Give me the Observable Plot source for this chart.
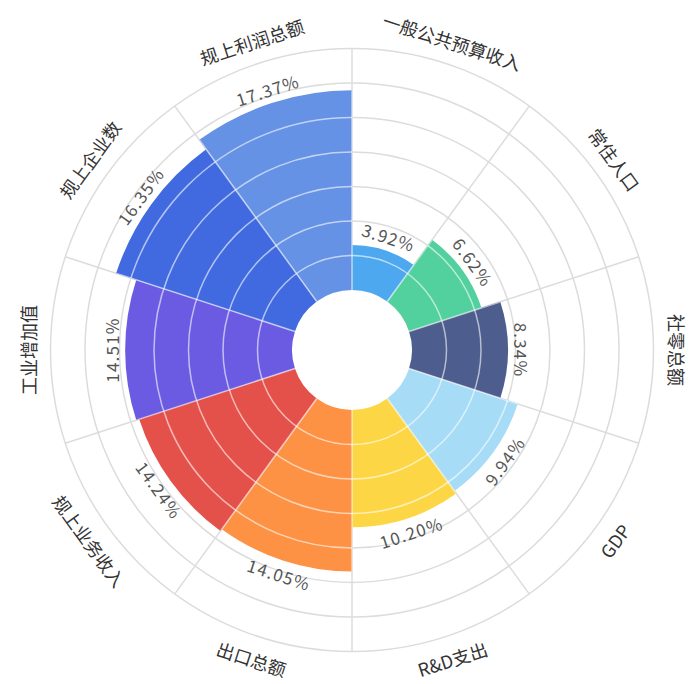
<!DOCTYPE html>
<html>
<head>
<meta charset="utf-8">
<script src="https://cdn.jsdelivr.net/npm/d3@7"></script>
<script src="https://cdn.jsdelivr.net/npm/@observablehq/plot@0.6"></script>
<style>
  html, body { margin: 0; padding: 0; background: #fff; }
  #chart svg { display: block; }
</style>
</head>
<body>
<div id="chart"></div>
<script>
// ---- data ----
const categories = ["一般公共预算收入", "常住人口", "社零总额", "GDP", "R&D支出", "出口总额", "规上业务收入", "工业增加值", "规上企业数", "规上利润总额"];
const values = [3.92, 6.62, 8.34, 9.94, 10.20, 14.05, 14.24, 14.51, 16.35, 17.37];
const valueLabels = ["3.92%", "6.62%", "8.34%", "9.94%", "10.20%", "14.05%", "14.24%", "14.51%", "16.35%", "17.37%"];
const colors = ["#4ea8f0", "#52d09d", "#4c5d8e", "#a7dcf7", "#fdd646", "#fd9244", "#e4514b", "#6b5be2", "#416ae0", "#6592e4"];
const gridTicks = [3, 6, 9, 12, 15, 18, 21];

const data = categories.map((name, i) => ({name, value: values[i], label: valueLabels[i], color: colors[i]}));

// ---- layout ----
const W = 692, H = 684, CX = 352, CY = 350;
const FONT = "'Noto Sans CJK SC', 'Noto Sans', sans-serif";

function rotFor(a) {
  let deg = a * 180 / Math.PI;
  if (deg > 90 && deg < 270) deg -= 180;
  else if (deg >= 270) deg -= 360;
  return deg;
}

function polarLayer(index, scales) {
  const x = scales.x, y = scales.y;
  const bw = x.bandwidth ? x.bandwidth() : 2 * Math.PI / categories.length;
  const yMax = gridTicks[gridTicks.length - 1];
  const r0 = y(0), rMax = y(yMax);
  const g = d3.create("svg:g").attr("transform", `translate(${CX},${CY})`);
  const arc = d3.arc();
  const barPath = d => arc({innerRadius: r0, outerRadius: y(d.value), startAngle: x(d.name), endAngle: x(d.name) + bw});

  function grid(parent, stroke, opacity) {
    const gg = parent.append("g").attr("stroke", stroke).attr("stroke-opacity", opacity).attr("stroke-width", 1.5);
    gg.selectAll("circle").data(gridTicks).join("circle")
      .attr("r", t => y(t))
      .attr("fill", "none");
    gg.selectAll("line").data(categories).join("line")
      .attr("x1", c => r0 * Math.sin(x(c)))
      .attr("y1", c => -r0 * Math.cos(x(c)))
      .attr("x2", c => rMax * Math.sin(x(c)))
      .attr("y2", c => -rMax * Math.cos(x(c)));
    return gg;
  }

  // clip path made of the bars
  const clipId = "bars-clip";
  g.append("clipPath").attr("id", clipId)
    .selectAll("path").data(data).join("path").attr("d", barPath);

  // grey grid
  grid(g, "#dcdcdc", 1);

  // bars
  g.append("g").selectAll("path").data(data).join("path")
    .attr("d", barPath)
    .attr("fill", d => d.color);

  // light grid over bars only
  grid(g, "#ffffff", 0.6).attr("clip-path", `url(#${clipId})`);

  // value labels
  g.append("g").selectAll("text").data(data).join("text")
    .attr("transform", d => {
      const a = x(d.name) + bw / 2, r = y(d.value) + 14;
      return `translate(${r * Math.sin(a)},${-r * Math.cos(a)}) rotate(${rotFor(a)})`;
    })
    .attr("text-anchor", "middle")
    .attr("dominant-baseline", "central")
    .attr("font-family", FONT)
    .attr("font-size", 17)
    .attr("letter-spacing", 1.2)
    .attr("fill", "#555")
    .text(d => d.label);

  // category labels
  g.append("g").selectAll("text").data(categories).join("text")
    .attr("transform", c => {
      const a = x(c) + bw / 2, r = rMax + 23;
      return `translate(${r * Math.sin(a)},${-r * Math.cos(a)}) rotate(${rotFor(a)})`;
    })
    .attr("text-anchor", "middle")
    .attr("dominant-baseline", "central")
    .attr("font-family", FONT)
    .attr("font-size", 18)
    .attr("fill", "#333")
    .text(c => c);

  return g.node();
}

const chart = Plot.plot({
  width: W,
  height: H,
  margin: 0,
  style: {background: "#fff", overflow: "visible"},
  x: {type: "band", domain: categories, range: [0, 2 * Math.PI], padding: 0, round: false, axis: null},
  y: {type: "linear", domain: [0, gridTicks[gridTicks.length - 1]], range: [60, 301.5], axis: null},
  marks: [
    Plot.dot(data, {x: "name", y: "value", r: 1, fill: "none", stroke: "none"}),
    polarLayer
  ]
});
document.getElementById("chart").appendChild(chart);
</script>
</body>
</html>
